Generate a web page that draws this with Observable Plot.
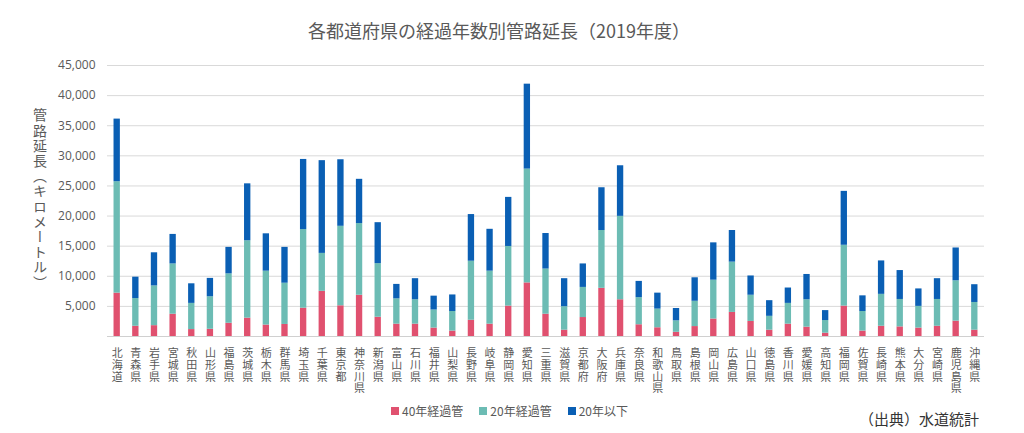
<!DOCTYPE html>
<html>
<head>
<meta charset="utf-8">
<script src="https://cdn.jsdelivr.net/npm/d3@7"></script>
<script src="https://cdn.jsdelivr.net/npm/@observablehq/plot@0.6"></script>
<style>
  body { margin: 0; background: #fff; font-family: "Open Sans", "Noto Sans CJK JP", sans-serif; }
  #wrap { position: relative; width: 1024px; height: 433px; overflow: hidden; }
  #chart { position: absolute; left: 0; top: 0; }
  #title { position: absolute; left: 0; width: 998px; top: 17px; text-align: center; font-size: 18px; color: #595959; font-family: "Noto Sans CJK JP", sans-serif; }
  #ylab { position: absolute; left: 30px; top: 108px; writing-mode: vertical-rl; font-size: 14px; color: #595959; font-family: "Noto Sans CJK JP", sans-serif; letter-spacing: 1.2px; }
  #legend { position: absolute; top: 402px; left: 391px; display: flex; gap: 16px; font-size: 12px; color: #595959; font-family: "Noto Sans CJK JP", sans-serif; }
  #legend span.sw { display: inline-block; width: 8px; height: 8px; margin-right: 3px; }
  #legend div { display: flex; align-items: center; }
  #caption { position: absolute; left: 859px; top: 408px; font-size: 15px; color: #333; font-family: "Noto Sans CJK JP", sans-serif; }
</style>
</head>
<body>
<div id="wrap">
  <div id="chart"></div>
  <div id="title">各都道府県の経過年数別管路延長（2019年度）</div>
  <div id="ylab">管路延長（キロメートル）</div>
  <div id="legend"></div>
  <div id="caption">（出典）水道統計</div>
</div>
<script>
const prefs = ["北海道","青森県","岩手県","宮城県","秋田県","山形県","福島県","茨城県","栃木県","群馬県","埼玉県","千葉県","東京都","神奈川県","新潟県","富山県","石川県","福井県","山梨県","長野県","岐阜県","静岡県","愛知県","三重県","滋賀県","京都府","大阪府","兵庫県","奈良県","和歌山県","鳥取県","島根県","岡山県","広島県","山口県","徳島県","香川県","愛媛県","高知県","福岡県","佐賀県","長崎県","熊本県","大分県","宮崎県","鹿児島県","沖縄県"];
const over40 = [7200,1700,1800,3700,1150,1200,2200,3050,1900,2000,4700,7500,5100,6850,3200,2050,2050,1400,900,2700,2050,5050,8900,3700,1050,3150,8000,6100,1950,1450,700,1650,2900,4000,2500,1050,2050,1550,550,5050,900,1700,1600,1400,1700,2550,1050];
const over20 = [18500,4600,6600,8350,4350,5400,8200,12850,8950,6850,13050,6300,13200,11900,8900,4200,4050,3000,3250,9800,8800,9900,18900,7500,3900,5000,9600,13850,4500,3100,1900,4200,6450,8350,4350,2300,3450,4550,2100,10100,3250,5300,4550,3600,4450,6700,4600];
const under20 = [10400,3550,5500,4900,3250,3050,4400,9450,6200,5950,11650,15400,11050,7350,6800,2400,3500,2300,2750,7750,6950,8150,14100,5900,4650,3900,7100,8400,2700,2650,2050,3900,6200,5250,3200,2600,2550,4200,1650,8950,2600,5550,4800,2900,3450,5450,2950];
const seriesNames = ["40年経過管","20年経過管","20年以下"];
const seriesColors = ["#e0516f","#6cbcb4","#0a5fb4"];
const yTicks = [0,5000,10000,15000,20000,25000,30000,35000,40000,45000];

const rows = [];
prefs.forEach((p, i) => {
  rows.push({pref: p, series: seriesNames[0], value: over40[i]});
  rows.push({pref: p, series: seriesNames[1], value: over20[i]});
  rows.push({pref: p, series: seriesNames[2], value: under20[i]});
});

const chart = Plot.plot({
  width: 1024,
  height: 433,
  marginTop: 65,
  marginBottom: 97,
  marginLeft: 107,
  marginRight: 40,
  style: {fontFamily: '"Open Sans", "Noto Sans CJK JP", sans-serif', color: "#595959", background: "transparent"},
  x: {domain: prefs, paddingInner: 0.66, paddingOuter: 0.35, round: false, label: null},
  y: {domain: [0, 45000], label: null},
  color: {domain: seriesNames, range: seriesColors},
  marks: [
    Plot.gridY(yTicks, {stroke: "#d9d9d9", strokeOpacity: 1}),
    Plot.barY(rows, {x: "pref", y: "value", fill: "series", order: seriesNames}),
    Plot.ruleY([0], {stroke: "#d0d0d0"}),
    Plot.axisY(yTicks, {tickSize: 0, tickPadding: 12, fontSize: 12, fill: "#595959",
      tickFormat: d => d === 0 ? "" : d3.format(",")(d), label: null}),
    Plot.axisX({tickSize: 0, tickPadding: 3, fontSize: 11, fill: "#595959",
      fontFamily: '"Noto Sans CJK JP", sans-serif', label: null})
  ]
});
// Japanese tick labels are set vertically (tategaki), as in the reference
chart.querySelectorAll('g[aria-label="x-axis tick label"] text').forEach(t => {
  t.style.writingMode = "vertical-rl";
  t.setAttribute("text-anchor", "start");
  t.removeAttribute("dy");
  t.style.letterSpacing = "0.8px";
});
document.getElementById("chart").appendChild(chart);

const legend = document.getElementById("legend");
seriesNames.forEach((n, i) => {
  const item = document.createElement("div");
  const sw = document.createElement("span");
  sw.className = "sw";
  sw.style.background = seriesColors[i];
  item.appendChild(sw);
  item.appendChild(document.createTextNode(n));
  legend.appendChild(item);
});
</script>
</body>
</html>
